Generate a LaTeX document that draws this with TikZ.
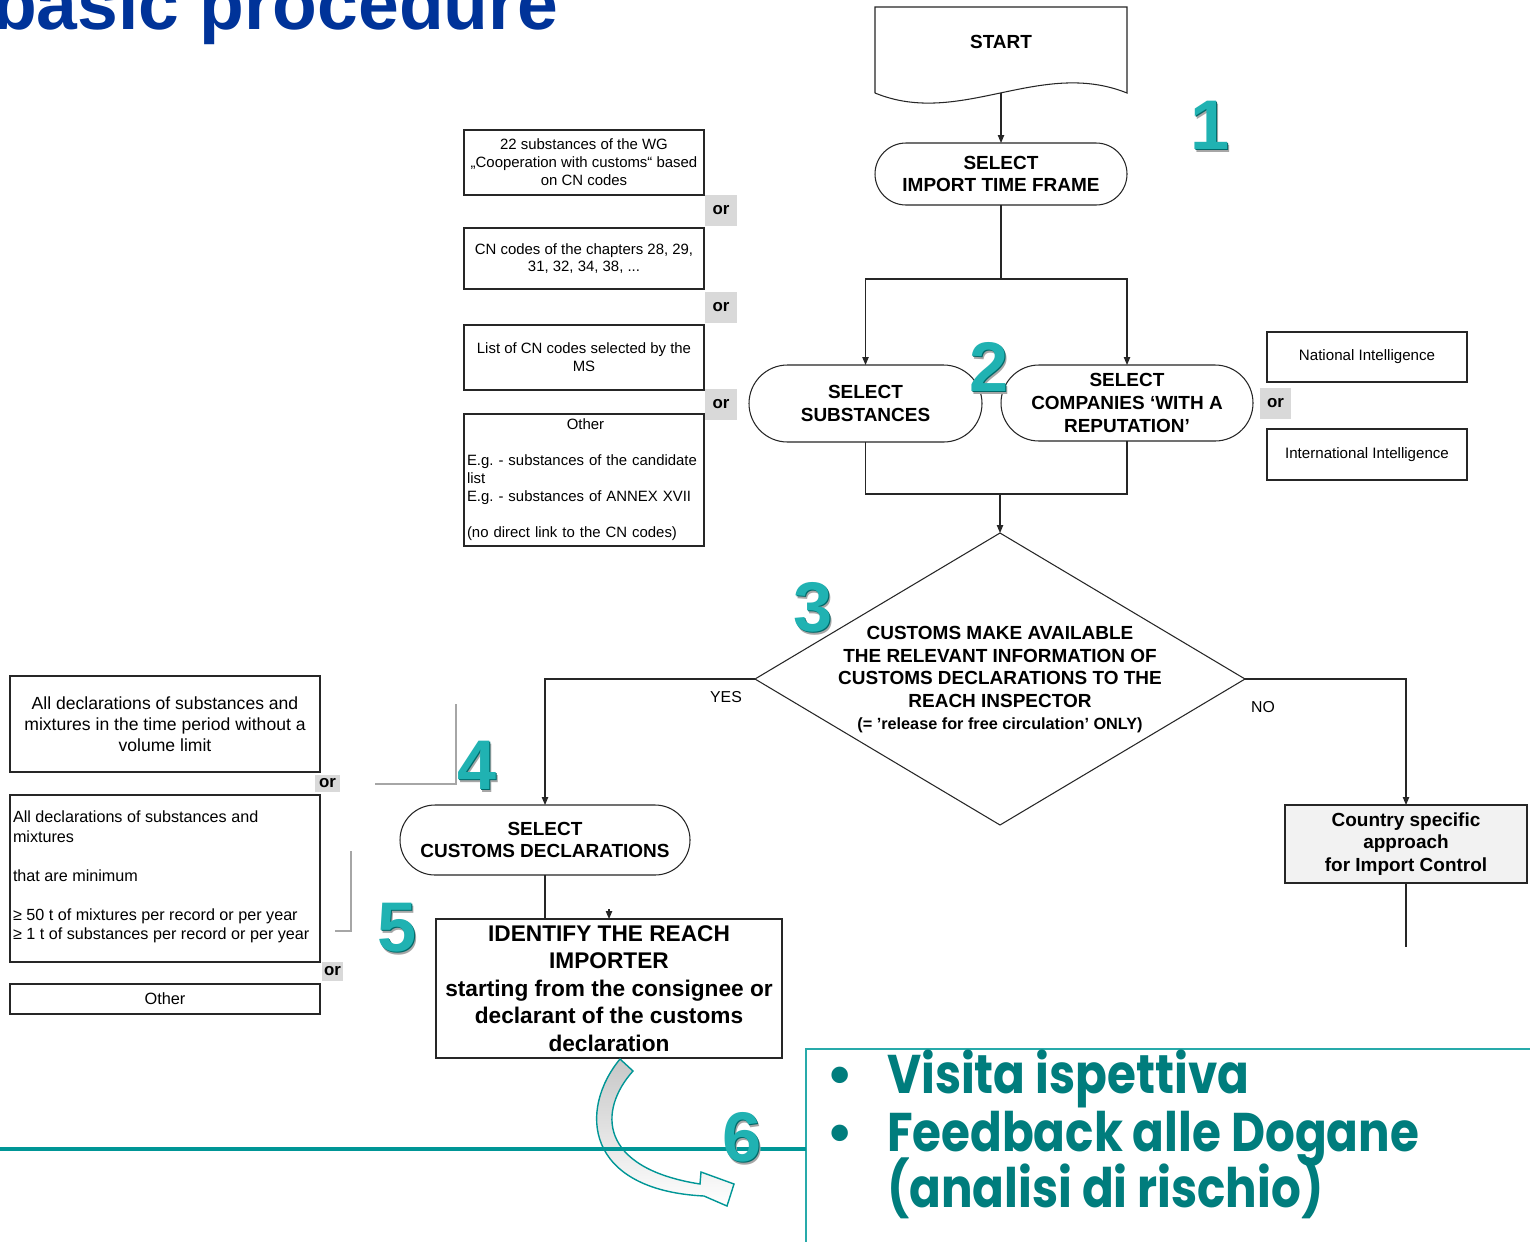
\documentclass[tikz,border=0pt]{standalone}
\usepackage{fontspec}
\setmainfont{Liberation Sans}
\newfontfamily\popfont{Poppins}
\usetikzlibrary{shapes.geometric,shapes.misc,arrows.meta,calc}
\def\pxu{0.02cm}
\definecolor{titleblue}{RGB}{0,51,153}
\definecolor{orgray}{RGB}{217,217,217}
\definecolor{csgray}{RGB}{242,242,242}
\definecolor{tealline}{RGB}{0,150,150}
\definecolor{tealbox}{RGB}{40,170,170}
\definecolor{tealtext}{RGB}{0,125,125}
\definecolor{numteal}{RGB}{32,178,178}
\definecolor{numdark}{RGB}{0,105,105}
\definecolor{brgray}{RGB}{166,166,166}
\tikzset{
  every node/.style={inner sep=0pt, outer sep=0pt},
  conn/.style={draw=black!85, line width=0.6pt},
  arr/.style={conn, -{Triangle[length=4.5pt,width=3.6pt]}},
  bigtxt/.style={font=\fontsize{10.8}{13}\selectfont\bfseries, align=center},
  stadium/.style={conn, rounded rectangle, bigtxt},
  smallbox/.style={conn, rectangle, align=center, font=\fontsize{8.5}{10.2}\selectfont},
  orbox/.style={fill=orgray, font=\fontsize{9.6}{11}\selectfont\bfseries},
  num/.style={font=\fontsize{40}{40}\selectfont\bfseries, text=numteal},
  numd/.style={font=\fontsize{40}{40}\selectfont\bfseries, text=numdark},
  nums/.style={font=\fontsize{40}{40}\selectfont\bfseries, text=black!35},
  gline/.style={draw=brgray, line width=1pt},
  bul/.style={font=\popfont\fontsize{31}{31}\selectfont\bfseries, text=tealtext, anchor=base west},
}
\newcommand{\bignum}[3]{%
  \node[nums] (#3s) at ($(#1)+(2.5,3)$) {#2};
  \node[numd] (#3d) at ($(#1)+(1,1)$) {#2};
  \node[num] (#3) at (#1) {#2};}
\newcommand{\narrow}[1]{\scalebox{0.86}[1]{#1}}
\begin{document}
\begin{tikzpicture}[x=0.02cm,y=-0.02cm]
\useasboundingbox (0,0) rectangle (1530,1241);
\clip (0,0) rectangle (1530,1241);
\fill[white] (0,0) rectangle (1530,1241);

% title
\node[anchor=base west, font=\fontsize{41.7}{44}\selectfont\bfseries, text=titleblue] (title) at (-8,29) {basic procedure};

% START document shape
\draw[conn] (875,93) -- (875,7) -- (1127,7) -- (1127,93)
   .. controls (1040,58) and (960,128) .. (875,93);
\node[bigtxt] (start) at (1001,42) {START};
\coordinate (startb) at (1001,93);

\node[stadium, minimum width=252*\pxu, minimum height=62*\pxu] (tf) at (1001,174) {SELECT\\IMPORT TIME FRAME};
\draw[arr] (startb) -- (tf.north);

\node[stadium, minimum width=233*\pxu, minimum height=77*\pxu] (ss) at (865.5,403.5) {SELECT\\SUBSTANCES};
\node[stadium, minimum width=252*\pxu, minimum height=76*\pxu] (sc) at (1127,403) {SELECT\\COMPANIES ‘WITH A\\REPUTATION’};

\coordinate (j1) at (1001,279);
\draw[conn] (tf.south) -- (j1);
\draw[arr] (j1) -| (ss.north);
\draw[arr] (j1) -| (sc.north);

% left option boxes (top)
\node[smallbox, minimum width=240*\pxu, minimum height=65*\pxu] (ba) at (584,162.5) {22 substances of the WG\\„Cooperation with customs“ based\\on CN codes};
\node[orbox, minimum width=32*\pxu, minimum height=31*\pxu] (or1) at (721,210.5) {or};
\node[smallbox, minimum width=240*\pxu, minimum height=61*\pxu] (bb2) at (584,258.5) {CN codes of the chapters 28, 29,\\31, 32, 34, 38, ...};
\node[orbox, minimum width=32*\pxu, minimum height=31*\pxu] (or2) at (721,307) {or};
\node[smallbox, minimum width=240*\pxu, minimum height=65*\pxu] (bc) at (584,357.5) {List of CN codes selected by the\\MS};
\node[orbox, minimum width=32*\pxu, minimum height=31*\pxu] (or3) at (721,404) {or};
\node[conn, rectangle, minimum width=240*\pxu, minimum height=132*\pxu] (bd) at (584,480) {};
\node[align=left, text width=237*\pxu, font=\fontsize{8.5}{10.2}\selectfont] (bdt) at (585.5,479.5)
  {\makebox[\linewidth]{Other}\\[10.2pt]E.g.\ - substances of the candidate\\list\\E.g.\ - substances of ANNEX XVII\\[10.2pt](no direct link to the CN codes)};

% intelligence boxes
\node[smallbox, minimum width=200*\pxu, minimum height=50*\pxu, font=\fontsize{8.6}{10.3}\selectfont] (ni) at (1367,357) {National Intelligence};
\node[orbox, minimum width=31*\pxu, minimum height=31*\pxu] (orr) at (1275.5,403.5) {or};
\node[smallbox, minimum width=200*\pxu, minimum height=51*\pxu, font=\fontsize{8.6}{10.3}\selectfont] (ii) at (1367,454.5) {International Intelligence};

% merge to diamond
\coordinate (j2) at (1000,494);
\draw[conn] (ss.south) |- (j2);
\draw[conn] (sc.south) |- (j2);
\node[diamond, conn, minimum width=490*\pxu, minimum height=292*\pxu] (dia) at (1000,679) {};
\draw[arr] (j2) -- (dia.north);
\node[align=center, font=\fontsize{10.8}{13}\selectfont\bfseries] (diat) at (1000,679.5)
  {CUSTOMS MAKE AVAILABLE\\THE RELEVANT INFORMATION OF\\CUSTOMS DECLARATIONS TO THE\\REACH INSPECTOR\\[-0.6pt]{\fontsize{9.25}{11}\selectfont (= ’release for free circulation’ ONLY)}};

% YES / NO branches
\node[stadium, minimum width=290*\pxu, minimum height=70*\pxu] (sd) at (545,840) {SELECT\\CUSTOMS DECLARATIONS};
\node[conn, rectangle, fill=csgray, minimum width=242*\pxu, minimum height=78*\pxu, bigtxt] (cs) at (1406,844) {Country specific\\approach\\for Import Control};
\draw[arr] (dia.west) -| (sd.north);
\draw[arr] (dia.east) -| (cs.north);
\node[font=\fontsize{9}{11}\selectfont] (yes) at (726,697) {YES};
\node[font=\fontsize{9}{11}\selectfont] (no) at (1263,707) {NO};
\coordinate (csend) at (1406,947);
\draw[conn] (cs.south) -- (csend);

% identify box
\node[conn, rectangle, minimum width=346*\pxu, minimum height=139*\pxu, align=center, font=\fontsize{12.9}{15.6}\selectfont\bfseries] (id) at (609,988.5)
  {IDENTIFY THE REACH\\IMPORTER\\starting from the consignee or\\declarant of the customs\\declaration};
\draw[conn] (sd.south) -- (sd.south |- id.north);
\draw[arr] ($(id.north)+(0,-10)$) -- (id.north);

% left lower boxes
\node[conn, rectangle, minimum width=310*\pxu, minimum height=96*\pxu, align=center, font=\fontsize{10}{11.9}\selectfont] (l1) at (165,724) {All declarations of substances and\\mixtures in the time period without a\\volume limit};
\node[orbox, minimum width=25*\pxu, minimum height=17*\pxu] (orl1) at (327.5,783.5) {or};
\node[conn, rectangle, minimum width=310*\pxu, minimum height=167*\pxu] (l2) at (165,878.5) {};
\node[anchor=west, align=left, font=\fontsize{9.2}{11.05}\selectfont] (l2t) at (13,877)
  {All declarations of substances and\\mixtures\\[11.05pt]that are minimum\\[11.05pt]≥ 50 t of mixtures per record or per year\\≥ 1 t of substances per record or per year};
\node[orbox, minimum width=21*\pxu, minimum height=19*\pxu] (orl2) at (332.5,971.5) {or};
\node[conn, rectangle, minimum width=310*\pxu, minimum height=30*\pxu, font=\fontsize{9.3}{11}\selectfont] (l3) at (165,999) {Other};

% gray brackets
\draw[gline] (456,704) -- (456,784) -- (375,784);
\draw[gline] (351,851) -- (351,931) -- (335,931);

% big teal box
\node[draw=tealbox, line width=1.2pt, rectangle, minimum width=740*\pxu, minimum height=220*\pxu, anchor=north west] (bbx) at (806,1049) {};
\node[bul] (b1) at (826,1093) {•};
\node[bul] (b2) at (826,1151) {•};
\node[bul] (t1) at (887,1093) {\narrow{Visita ispettiva}};
\node[bul] (t2) at (887,1151) {\narrow{Feedback alle Dogane}};
\node[bul] (t3) at (887,1207) {\narrow{(analisi di rischio)}};

% curved block arrow
\path[draw=tealline, line width=0.8pt, top color=black!22, bottom color=white]
  (620,1059) -- (633,1071)
  .. controls (598,1110) and (598,1168) .. (700,1184)
  -- (701,1172) -- (734,1184) -- (727,1206) -- (704,1196)
  .. controls (585,1190) and (578,1110) .. (620,1059) -- cycle;

% teal line
\coordinate (tl) at (0,1149);
\draw[draw=tealline, line width=1.8pt] (tl) -- (tl -| bbx.west);

% numbers
\coordinate (p1) at (1210,125);
\coordinate (p2) at (989,367);
\coordinate (p3) at (813,607);
\coordinate (p4) at (477,765);
\coordinate (p5) at (397,928);
\coordinate (p6) at (742,1137);
\bignum{p1}{1}{n1}
\bignum{p2}{2}{n2}
\bignum{p3}{3}{n3}
\bignum{p4}{4}{n4}
\bignum{p5}{5}{n5}
\bignum{p6}{6}{n6}
\end{tikzpicture}
\end{document}
